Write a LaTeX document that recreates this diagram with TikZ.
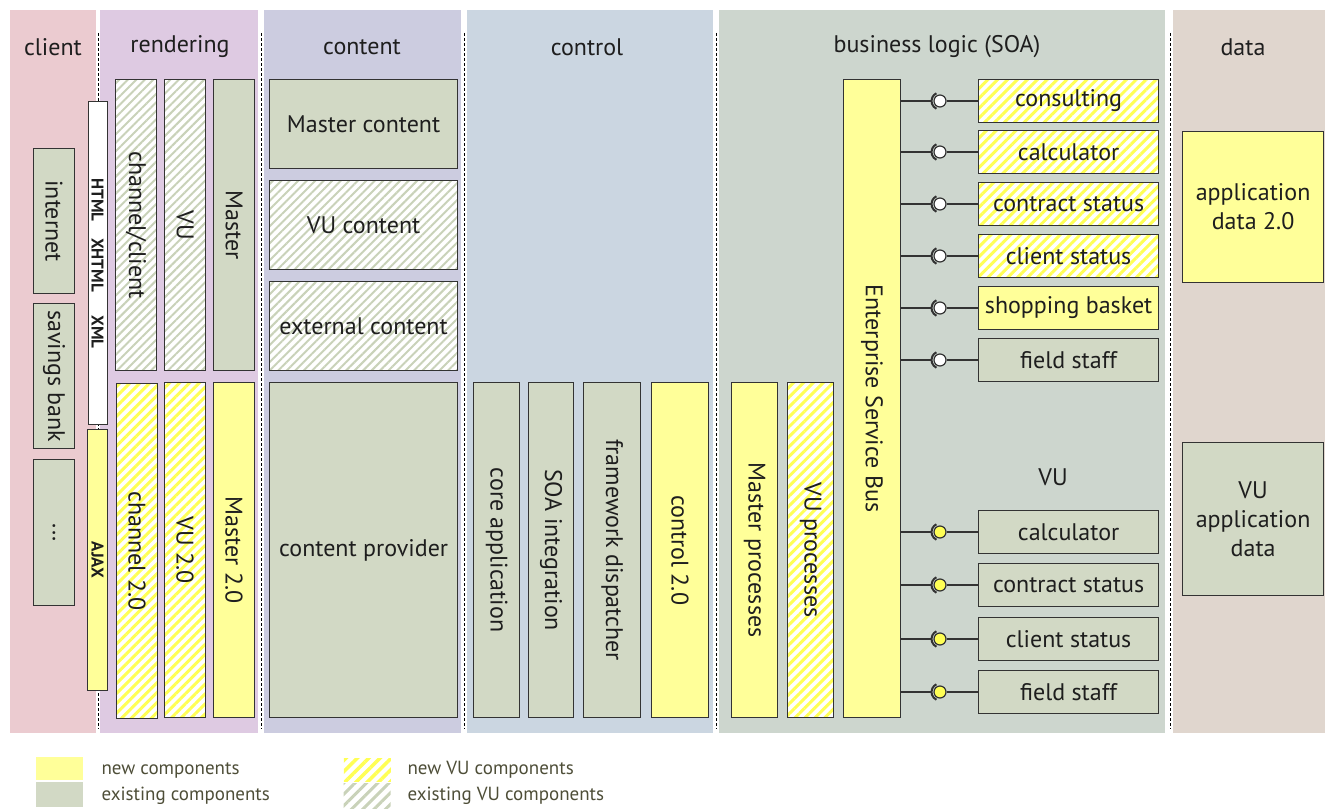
\documentclass[tikz,border=0pt]{standalone}
\usepackage{fontspec}
\setmainfont{PT Sans}
\usetikzlibrary{patterns.meta}

\definecolor{bandclient}{HTML}{EBCBD0}
\definecolor{bandrender}{HTML}{DECAE2}
\definecolor{bandcontent}{HTML}{CCCCE0}
\definecolor{bandcontrol}{HTML}{CBD6E1}
\definecolor{bandbusiness}{HTML}{CDD6CE}
\definecolor{banddata}{HTML}{E0D6CE}
\definecolor{compnew}{HTML}{FFFF99}
\definecolor{compold}{HTML}{D2D9C5}
\definecolor{stripenew}{HTML}{FFFF55}
\definecolor{stripeold}{HTML}{C9D2B9}
\definecolor{boxline}{HTML}{333333}
\definecolor{txt}{HTML}{1E1E1E}
\definecolor{legtxt}{HTML}{4E4E38}

\newcommand\compfont{\fontsize{24}{29}\selectfont}
\newcommand\tagfont{\fontsize{17}{18}\selectfont\bfseries}
\newcommand\legfont{\fontsize{19}{21}\selectfont}

\tikzset{
  wh/.style 2 args={minimum width=#1,minimum height=#2},
  comp/.style={draw=boxline,line width=1.2pt,inner sep=0pt,anchor=north west,
    font=\compfont,text=txt,align=center},
  newbox/.style={comp,fill=compnew},
  oldbox/.style={comp,fill=compold},
  newvu/.style={comp,preaction={fill=white},
    pattern={Lines[angle=45,distance=7pt,line width=3pt]},pattern color=stripenew},
  oldvu/.style={comp,preaction={fill=white},
    pattern={Lines[angle=45,distance=6pt,line width=2pt]},pattern color=stripeold},
  head/.style={font=\compfont,text=txt},
  laneline/.style={draw=black,line width=0.9pt,dash pattern=on 3pt off 2pt},
  ball/.style={circle,draw=boxline,line width=1.2pt,minimum size=12pt,inner sep=0pt},
  wire/.style={draw=boxline,line width=1.2pt},
  legbox/.style={draw=none,inner sep=0pt,anchor=north west},
  legtext/.style={font=\legfont,text=legtxt,anchor=west}
}

\begin{document}
\begin{tikzpicture}[x=1pt,y=-1pt]
\useasboundingbox (0,0) rectangle (1325,810);
% first pattern use, out of sight
\path[pattern={Lines[angle=45,distance=6pt,line width=2pt]},pattern color=white]
  (0,0) rectangle (1,1);

% layer bands
\fill[bandclient] (10,10) rectangle (96,733);
\fill[bandrender] (100,10) rectangle (258,733);
\fill[bandcontent] (264,10) rectangle (461,733);
\fill[bandcontrol] (467,10) rectangle (713,733);
\fill[bandbusiness] (719,10) rectangle (1165,733);
\fill[banddata] (1173,10) rectangle (1325,733);

\draw[laneline] (98,33) -- (98,729);
\draw[laneline] (261,33) -- (261,729);
\draw[laneline] (464,33) -- (464,729);
\draw[laneline] (716,33) -- (716,729);
\draw[laneline] (1170,33) -- (1170,729);

\path
(53,47) node [head] (hclient) {client}
(180,47) node [head] (hrender) {rendering}
(362,47) node [head] (hcontent) {content}
(587,47) node [head] (hcontrol) {control}
(937,47) node [head] (hbusiness) {business logic (SOA)}
(1243,47) node [head] (hdata) {data};

% client
\path
(33,148) node [oldbox,wh={41}{145}] (inet) {\rotatebox{-90}{internet}}
(33,303) node [oldbox,wh={41}{145}] (sbank) {\rotatebox{-90}{savings bank}}
(33,459) node [oldbox,wh={41}{146}] (more) {\rotatebox{-90}{...}}
(88,101) node [comp,fill=white,wh={19}{323}] (markup) {}
(87,429) node [newbox,wh={20}{261}] (ajax) {\rotatebox{-90}{\tagfont AJAX}};
\node [font=\tagfont,text=txt,rotate=-90] (thtml) at (97.5,200) {HTML};
\node [font=\tagfont,text=txt,rotate=-90] (txhtml) at (97.5,265) {XHTML};
\node [font=\tagfont,text=txt,rotate=-90] (txml) at (97.5,332) {XML};

% rendering
\path
(115,79) node [oldvu,wh={41}{291}] (chcl) {\rotatebox{-90}{channel/client}}
(164,79) node [oldvu,wh={41}{291}] (vu) {\rotatebox{-90}{VU}}
(213,79) node [oldbox,wh={41}{291}] (master) {\rotatebox{-90}{Master}}
(115,382) node [newvu,wh={41}{335}] (ch2) {\rotatebox{-90}{channel 2.0}}
(164,382) node [newvu,wh={41}{335}] (vu2) {\rotatebox{-90}{VU 2.0}}
(213,382) node [newbox,wh={41}{335}] (master2) {\rotatebox{-90}{Master 2.0}};

% content
\path
(269,79) node [oldbox,wh={188}{89}] (mcont) {Master content}
(269,180) node [oldvu,wh={188}{89}] (vucont) {VU content}
(269,281) node [oldvu,wh={188}{89}] (extcont) {external content}
(269,382) node [oldbox,wh={188}{335}] (cprov) {content provider};

% control
\path
(473,382) node [oldbox,wh={46}{335}] (core) {\rotatebox{-90}{core application}}
(528,382) node [oldbox,wh={45}{335}] (soaint) {\rotatebox{-90}{SOA integration}}
(583,382) node [oldbox,wh={57}{335}] (fwd) {\rotatebox{-90}{framework dispatcher}}
(651,382) node [newbox,wh={57}{335}] (ctrl2) {\rotatebox{-90}{control 2.0}};

% business logic
\path
(731,382) node [newbox,wh={46}{335}] (mproc) {\rotatebox{-90}{Master processes}}
(787,382) node [newvu,wh={46}{335}] (vuproc) {\rotatebox{-90}{VU processes}}
(843,79) node [newbox,wh={57}{638}] (esb) {\rotatebox{-90}{Enterprise Service Bus}}
(1053,477) node [head] (hvu) {VU};

\foreach \i/\y/\t/\sty/\bf in {1/101/consulting/newvu/white,
    2/152/calculator/newvu/white,3/204/contract status/newvu/white,
    4/256/client status/newvu/white,5/308/shopping basket/newbox/white,
    6/360/field staff/oldbox/white,7/532/calculator/oldbox/stripenew,
    8/585/contract status/oldbox/stripenew,9/639/client status/oldbox/stripenew,
    10/692/field staff/oldbox/stripenew}{
  \node [\sty,wh={180}{43},anchor=west] (svc\i) at (978,\y) {\t};
  \node [ball,fill=\bf] (ball\i) at (940,\y) {};
  \coordinate (sock\i) at (931,\y);
  \draw [wire] (esb.east |- sock\i) -- (sock\i);
  \draw [wire,line width=2pt] (ball\i.center) ++(115:8.5)
    arc[start angle=115,end angle=245,radius=8.5];
  \draw [wire] (ball\i) -- (svc\i);
}

% data
\path
(1182,131) node [newbox,wh={141}{151}] (appdata) {application\\data 2.0}
(1182,442) node [oldbox,wh={141}{153}] (vudata) {VU\\application\\data};

% legend
\path
(36,757) node [legbox,fill=compnew,wh={47}{23}] (lnew) {}
(36,782) node [legbox,fill=compold,wh={47}{25}] (lold) {}
(342,757) node [legbox,pattern={Lines[angle=45,distance=8pt,line width=3.5pt]},
  pattern color=stripenew,wh={47}{23}] (lnewvu) {}
(342,782) node [legbox,pattern={Lines[angle=45,distance=8pt,line width=3pt]},
  pattern color=stripeold,wh={47}{25}] (loldvu) {};
\node [legtext] at (98,770) {new components};
\node [legtext] at (98,796) {existing components};
\node [legtext] at (404,770) {new VU components};
\node [legtext] at (404,796) {existing VU components};
\end{tikzpicture}
\end{document}
